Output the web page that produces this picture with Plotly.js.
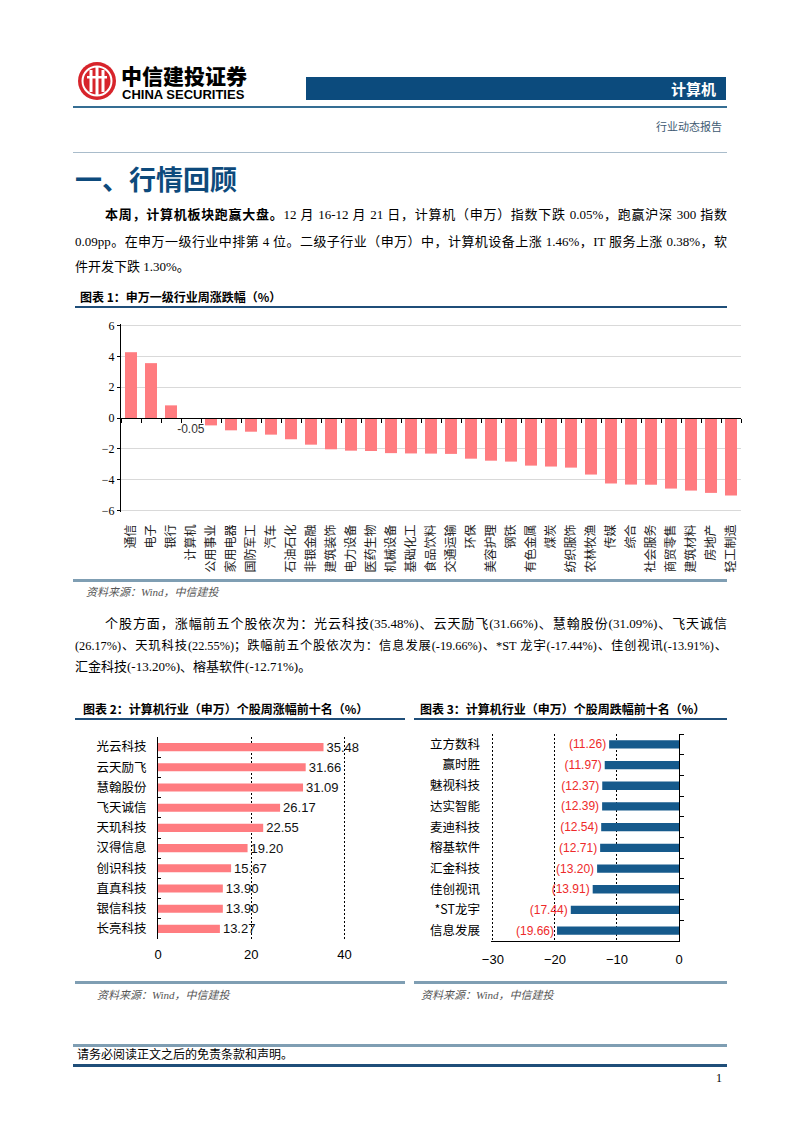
<!DOCTYPE html>
<html>
<head>
<meta charset="utf-8">
<script src="https://cdn.plot.ly/plotly-3.0.1.min.js"></script>
<style>
body { margin: 0; background: #fff; }
#page { position: relative; width: 802px; height: 1133px; overflow: hidden; background: #fff;
        font-family: "Liberation Serif", "Noto Sans CJK SC", serif; color: #000; }
.abs { position: absolute; white-space: nowrap; }
.rule { position: absolute; }
.line { position: absolute; font-size: 13px; line-height: 20px; height: 20px; white-space: nowrap; }
.just { text-align: justify; text-align-last: justify; }
.cap { font-family: "Noto Sans CJK SC", sans-serif; font-weight: bold; font-size: 12px; line-height: 16px; }
.src { font-size: 11px; line-height: 14px; font-style: italic; color: #555; }
.chart { position: absolute; }
</style>
</head>
<body>
<div id="page">

  <!-- header -->
  <svg class="abs" style="left:77px;top:61px" width="40" height="40" viewBox="0 0 40 40">
    <circle cx="20" cy="20" r="19" fill="#d7242b"/>
    <circle cx="20" cy="20" r="14.5" fill="none" stroke="#fff" stroke-width="2"/>
    <rect x="12.5" y="9" width="3" height="22" fill="#fff"/>
    <rect x="18.5" y="6" width="3" height="28" fill="#fff"/>
    <rect x="24.5" y="9" width="3" height="22" fill="#fff"/>
    <rect x="10" y="15" width="20" height="2.5" fill="#fff"/>
  </svg>
  <div class="abs" style="left:121px;top:65px;font-family:'Noto Sans CJK SC';font-weight:900;font-size:21px;line-height:20px;height:20px;">中信建投证券</div>
  <div class="abs" style="left:122px;top:89px;font-family:'Liberation Sans';font-weight:bold;font-size:13px;line-height:12px;height:12px;">CHINA SECURITIES</div>
  <div class="abs" style="left:306px;top:77px;width:410px;height:23px;padding-right:10px;background:#0c4b7d;color:#fff;text-align:right;font-family:'Noto Sans CJK SC';font-weight:bold;font-size:15px;line-height:23px;">计算机</div>
  <div class="rule" style="left:73px;top:106px;width:654px;height:1.5px;background:#356e93;"></div>
  <div class="abs" style="left:600px;top:119px;width:122px;text-align:right;font-family:'Noto Sans CJK SC';font-size:11px;line-height:14px;color:#3e5a72;">行业动态报告</div>
  <div class="rule" style="left:73px;top:152px;width:654px;height:1px;background:#a9bccb;"></div>

  <!-- section heading and paragraph 1 -->
  <div class="abs" style="left:75px;top:163px;font-family:'Noto Sans CJK SC';font-weight:bold;font-size:27px;line-height:32px;color:#0d4a7c;">一、行情回顾</div>
  <div class="line just" style="left:105px;top:205px;width:622px;"><b>本周，计算机板块跑赢大盘。</b>12 月 16-12 月 21 日，计算机（申万）指数下跌 0.05%，跑赢沪深 300 指数</div>
  <div class="line just" style="left:75px;top:232px;width:652px;">0.09pp。在申万一级行业中排第 4 位。二级子行业（申万）中，计算机设备上涨 1.46%，IT 服务上涨 0.38%，软</div>
  <div class="line" style="left:75px;top:257px;">件开发下跌 1.30%。</div>

  <!-- chart 1 -->
  <div class="abs cap" style="left:80px;top:289px;">图表 1：申万一级行业周涨跌幅（%）</div>
  <div class="rule" style="left:75px;top:306px;width:652px;height:2px;background:#1f4e79;"></div>
  <div id="chart1" class="chart" style="left:73px;top:312px;width:680px;height:270px;"></div>
  <div class="rule" style="left:73px;top:579px;width:654px;height:2.5px;background:#7f9eb3;"></div>
  <div class="abs src" style="left:86px;top:585px;">资料来源：Wind，中信建投</div>

  <!-- paragraph 2 -->
  <div class="line just" style="left:105px;top:614px;width:622px;">个股方面，涨幅前五个股依次为：光云科技(35.48%)、云天励飞(31.66%)、慧翰股份(31.09%)、飞天诚信</div>
  <div class="line just" style="left:75px;top:636px;width:652px;font-size:12.3px;">(26.17%)、天玑科技(22.55%)；跌幅前五个股依次为：信息发展(-19.66%)、*ST 龙宇(-17.44%)、佳创视讯(-13.91%)、</div>
  <div class="line" style="left:75px;top:657px;">汇金科技(-13.20%)、榕基软件(-12.71%)。</div>

  <!-- charts 2 and 3 -->
  <div class="abs cap" style="left:83px;top:701px;">图表 2：计算机行业（申万）个股周涨幅前十名（%）</div>
  <div class="abs cap" style="left:420px;top:701px;">图表 3：计算机行业（申万）个股周跌幅前十名（%）</div>
  <div class="rule" style="left:75px;top:718px;width:330px;height:2px;background:#1f4e79;"></div>
  <div class="rule" style="left:414px;top:718px;width:313px;height:2px;background:#1f4e79;"></div>
  <div id="chart2" class="chart" style="left:80px;top:725px;width:330px;height:250px;"></div>
  <div id="chart3" class="chart" style="left:410px;top:725px;width:330px;height:250px;"></div>
  <div class="rule" style="left:75px;top:981px;width:330px;height:2.5px;background:#7f9eb3;"></div>
  <div class="rule" style="left:414px;top:981px;width:313px;height:2.5px;background:#7f9eb3;"></div>
  <div class="abs src" style="left:97px;top:988px;">资料来源：Wind，中信建投</div>
  <div class="abs src" style="left:421px;top:988px;">资料来源：Wind，中信建投</div>

  <!-- footer -->
  <div class="rule" style="left:73px;top:1044px;width:654px;height:2.5px;background:#7f9eb3;"></div>
  <div class="abs" style="left:77px;top:1048px;font-size:12px;line-height:15px;">请务必阅读正文之后的免责条款和声明。</div>
  <div class="rule" style="left:73px;top:1064px;width:654px;height:3px;background:#1f4e79;"></div>
  <div class="abs" style="left:700px;top:1071px;width:22px;text-align:right;font-size:12px;line-height:15px;">1</div>
</div>

<script>
// chart 1: 申万一级行业周涨跌幅 (%)
const industries = ['通信', '电子', '银行', '计算机', '公用事业', '家用电器', '国防军工', '汽车',
    '石油石化', '非银金融', '建筑装饰', '电力设备', '医药生物', '机械设备', '基础化工', '食品饮料',
    '交通运输', '环保', '美容护理', '钢铁', '有色金属', '煤炭', '纺织服饰', '农林牧渔', '传媒',
    '综合', '社会服务', '商贸零售', '建筑材料', '房地产', '轻工制造'];
const industryChange = [4.27, 3.56, 0.82, -0.05, -0.48, -0.80, -0.89, -1.08, -1.38, -1.73, -2.03,
    -2.12, -2.14, -2.28, -2.30, -2.31, -2.33, -2.64, -2.77, -2.83, -3.09, -3.15, -3.22, -3.67,
    -4.25, -4.32, -4.33, -4.58, -4.71, -4.86, -5.03];
const labelledIndustry = '计算机';

// chart 2: 个股周涨幅前十名 (%)
const gainers = ['光云科技', '云天励飞', '慧翰股份', '飞天诚信', '天玑科技', '汉得信息', '创识科技',
    '直真科技', '银信科技', '长亮科技'];
const gainerChange = [35.48, 31.66, 31.09, 26.17, 22.55, 19.20, 15.67, 13.90, 13.90, 13.27];

// chart 3: 个股周跌幅前十名 (%)
const losers = ['立方数科', '赢时胜', '魅视科技', '达实智能', '麦迪科技', '榕基软件', '汇金科技',
    '佳创视讯', '*ST龙宇', '信息发展'];
const loserChange = [-11.26, -11.97, -12.37, -12.39, -12.54, -12.71, -13.20, -13.91, -17.44, -19.66];

const salmon = '#ff7c80';
const navy = '#165a8c';
const cjk = 'Noto Sans CJK SC';
const sans = 'Liberation Sans';
const config = { displayModeBar: false, staticPlot: true };

function initIndustryChart() {
    const n = industries.length;
    const bars = {
        type: 'bar',
        x: industries,
        y: industryChange,
        marker: { color: salmon },
        text: industries.map((c, i) => c === labelledIndustry ? industryChange[i].toFixed(2) : ''),
        textposition: 'outside',
        textfont: { family: sans, size: 12, color: '#333' },
        cliponaxis: false,
        constraintext: 'none'
    };
    // invisible helper so the zero-line axis gets the same categories
    const zeroAxisHelper = {
        type: 'scatter', mode: 'none', x: industries, y: industryChange,
        xaxis: 'x2', hoverinfo: 'skip', showlegend: false
    };
    const layout = {
        width: 680, height: 270,
        margin: { l: 48, r: 12, t: 12, b: 70 },
        paper_bgcolor: 'rgba(0,0,0,0)',
        plot_bgcolor: 'rgba(0,0,0,0)',
        showlegend: false,
        bargap: 0.4,
        xaxis: {
            type: 'category', range: [-0.5, n - 0.5],
            showline: false, ticks: '', showgrid: false, zeroline: false,
            tickangle: -90, ticklabelstandoff: 9,
            tickfont: { family: cjk, size: 12, color: '#222' }
        },
        xaxis2: {
            type: 'category', overlaying: 'x', anchor: 'free', position: 0.5, side: 'bottom',
            range: [-0.5, n - 0.5],
            showline: true, linecolor: '#000', linewidth: 1,
            ticks: 'outside', ticklen: 4, tickcolor: '#000', tickson: 'boundaries',
            showticklabels: false, showgrid: false, zeroline: false
        },
        yaxis: {
            range: [-6.1, 6.1], tick0: 0, dtick: 2,
            showgrid: true, gridcolor: '#d9d9d9', gridwidth: 1, zeroline: false,
            showline: true, linecolor: '#000', linewidth: 1,
            ticks: 'outside', ticklen: 3, tickcolor: '#000',
            tickfont: { family: 'Liberation Serif', size: 12, color: '#000' }
        }
    };
    Plotly.newPlot('chart1', [bars, zeroAxisHelper], layout, config);
}

function initGainerChart() {
    const n = gainers.length;
    const bars = {
        type: 'bar', orientation: 'h',
        y: gainers, x: gainerChange,
        width: 0.4,
        marker: { color: salmon },
        text: gainerChange.map(v => v.toFixed(2)),
        textposition: 'outside',
        textfont: { family: sans, size: 13, color: '#111' },
        cliponaxis: false,
        constraintext: 'none'
    };
    const layout = {
        width: 330, height: 250,
        margin: { l: 78, r: 64, t: 12, b: 36 },
        paper_bgcolor: 'rgba(0,0,0,0)',
        plot_bgcolor: 'rgba(0,0,0,0)',
        showlegend: false,
        xaxis: {
            range: [0, 40.3], tick0: 0, dtick: 20,
            showgrid: true, gridcolor: '#000', gridwidth: 1, griddash: '2px,2px',
            zeroline: false, showline: false, ticks: '', ticklabelstandoff: 6,
            tickfont: { family: sans, size: 13, color: '#000' }
        },
        yaxis: {
            type: 'category', range: [n - 0.5, -0.5],
            showline: true, linecolor: '#000', linewidth: 1,
            ticks: 'inside', ticklen: 3, tickcolor: '#000', tickson: 'boundaries',
            showgrid: false, zeroline: false, ticklabelstandoff: 8,
            tickfont: { family: cjk, size: 12.5, color: '#000' }
        }
    };
    Plotly.newPlot('chart2', [bars], layout, config);
}

function initLoserChart() {
    const n = losers.length;
    const bars = {
        type: 'bar', orientation: 'h',
        y: losers, x: loserChange,
        width: 0.4,
        marker: { color: navy },
        text: loserChange.map(v => '(' + Math.abs(v).toFixed(2) + ')'),
        textposition: 'outside',
        textfont: { family: sans, size: 12, color: '#ee2a2a' },
        cliponaxis: false,
        constraintext: 'none'
    };
    // invisible helper for the right-hand axis line with its ticks
    const rightAxisHelper = {
        type: 'scatter', mode: 'none', y: losers, x: loserChange,
        yaxis: 'y2', hoverinfo: 'skip', showlegend: false
    };
    const layout = {
        width: 330, height: 250,
        margin: { l: 81, r: 61, t: 9, b: 34 },
        paper_bgcolor: 'rgba(0,0,0,0)',
        plot_bgcolor: 'rgba(0,0,0,0)',
        showlegend: false,
        xaxis: {
            range: [-30.3, 0], tick0: 0, dtick: 10,
            showgrid: true, gridcolor: '#000', gridwidth: 1, griddash: '2px,2px',
            zeroline: false, showline: true, linecolor: '#000', linewidth: 1,
            ticks: '', ticklabelstandoff: 6,
            tickfont: { family: sans, size: 13, color: '#000' }
        },
        yaxis: {
            type: 'category', range: [n - 0.5, -0.5],
            showline: false, ticks: '', showgrid: false, zeroline: false,
            ticklabelstandoff: 10,
            tickfont: { family: cjk, size: 12.5, color: '#000' }
        },
        yaxis2: {
            type: 'category', overlaying: 'y', side: 'right', range: [n - 0.5, -0.5],
            showline: true, linecolor: '#000', linewidth: 1,
            ticks: 'outside', ticklen: 4, tickcolor: '#000', tickson: 'boundaries',
            showticklabels: false, showgrid: false, zeroline: false
        }
    };
    Plotly.newPlot('chart3', [bars, rightAxisHelper], layout, config);
}

initIndustryChart();
initGainerChart();
initLoserChart();
</script>
</body>
</html>
